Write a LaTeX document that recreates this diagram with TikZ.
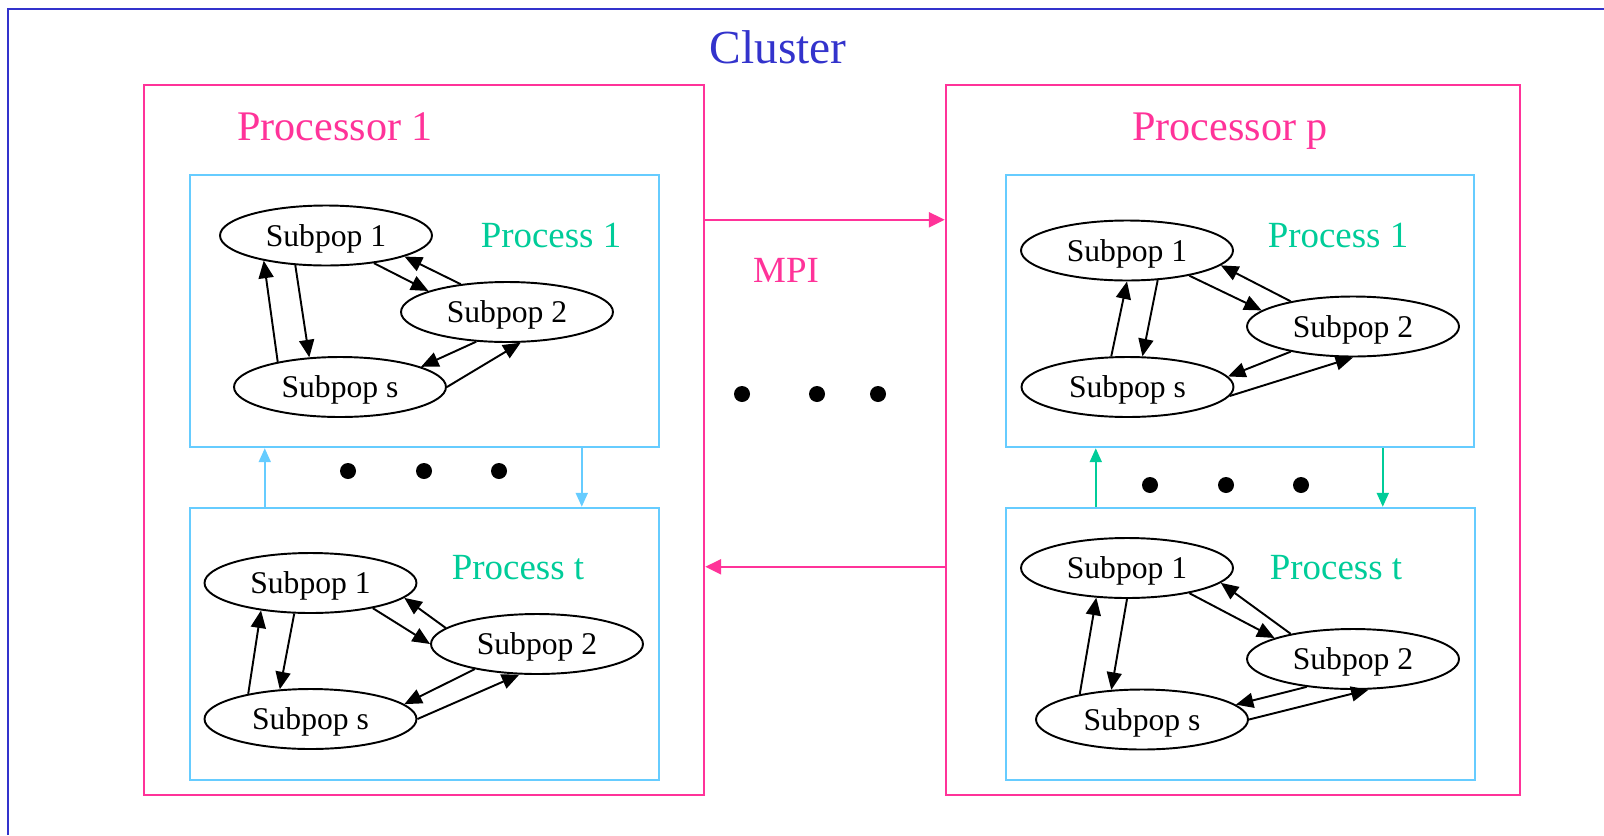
\documentclass[tikz,border=0pt]{standalone}
\usepackage{fontspec}
\setmainfont{Liberation Serif}
\definecolor{clusterblue}{RGB}{51,51,204}
\definecolor{cpupink}{RGB}{255,51,153}
\definecolor{procblue}{RGB}{102,204,255}
\definecolor{procgreen}{RGB}{0,204,153}
\usetikzlibrary{arrows.meta,shapes,fit,calc}

\begin{document}
\begin{tikzpicture}[x=0.02cm,y=-0.02cm,
    subpop/.style={draw, ellipse, line width=1.1pt, minimum width=4.24cm, minimum height=1.2cm, inner sep=0pt, text depth=0pt, font=\fontsize{18}{20}\selectfont},
    edge/.style={line width=1.1pt, -{Triangle[length=3.5mm,width=3mm]}},
    cpubox/.style={draw=cpupink, line width=1.4pt, inner sep=0pt},
    procbox/.style={draw=procblue, line width=1.4pt, inner sep=0pt},
    cpulabel/.style={text=cpupink, text depth=0pt, font=\fontsize{24}{28}\selectfont},
    proclabel/.style={text=procgreen, text depth=0pt, font=\fontsize{21}{24}\selectfont},
    mpiarrow/.style={draw=cpupink, line width=1.4pt, -{Triangle[length=3.2mm,width=3mm]}},
    procarrow/.style={draw=#1, line width=1.2pt, -{Triangle[length=2.8mm,width=2.4mm]}},
    dot/.style={fill=black}
    ]
      \useasboundingbox (0,0) rectangle (1604,835);
      \draw[clusterblue, line width=1.7pt] (8,835) -- (8,9) -- (1604,9);
      \node[text=clusterblue, text depth=0pt, font=\fontsize{27}{30}\selectfont] at (778,47) (cluster) {Cluster};

      \node[cpubox, fit={(144,85) (704,795)}] (cpu1) {};
      \node[cpubox, fit={(946,85) (1520,795)}] (cpup) {};
      \node[cpulabel] at (335,127) (cpu1lbl) {Processor 1};
      \node[cpulabel] at (1230,127) (cpuplbl) {Processor p};

      \node[procbox, fit={(190,175) (659,447)}] (l1) {};
      \node[procbox, fit={(190,508) (659,780)}] (lt) {};
      \node[procbox, fit={(1006,175) (1474,447)}] (r1) {};
      \node[procbox, fit={(1006,508) (1475,780)}] (rt) {};
      \node[proclabel] at (551,235) (l1lbl) {Process 1};
      \node[proclabel] at (518,567) (ltlbl) {Process t};
      \node[proclabel] at (1338,235) (r1lbl) {Process 1};
      \node[proclabel] at (1336,567) (rtlbl) {Process t};

      % processor 1, process 1
      \node[subpop] at (326,235.5) (a1) {Subpop 1};
      \node[subpop] at (507,312) (a2) {Subpop 2};
      \node[subpop] at (340,387) (as) {Subpop s};
      \draw[edge] (a1.-136) -- (as.136);
      \draw[edge] (as.158) -- (a1.-158);
      \draw[edge] (a1.-30) -- (a2.165);
      \draw[edge] (a2.149) -- (a1.-15);
      \draw[edge] (a2.-136) -- (as.14);
      \draw[edge] (as.0) -- (a2.-66);

      % processor 1, process t
      \node[subpop] at (310.5,583) (b1) {Subpop 1};
      \node[subpop] at (537,644) (b2) {Subpop 2};
      \node[subpop] at (310.5,719) (bs) {Subpop s};
      \draw[edge] (b1.-118) -- (bs.136);
      \draw[edge] (bs.158) -- (b1.-151);
      \draw[edge] (b1.-22) -- (b2.180);
      \draw[edge] (b2.170) -- (b1.-9);
      \draw[edge] (b2.-158) -- (bs.9);
      \draw[edge] (bs.0) -- (b2.-120);

      % processor p, process 1
      \node[subpop] at (1127,250.5) (c1) {Subpop 1};
      \node[subpop] at (1353,326.5) (c2) {Subpop 2};
      \node[subpop] at (1127.5,387) (cs) {Subpop s};
      \draw[edge] (c1.-44) -- (cs.64);
      \draw[edge] (cs.118) -- (c1.-90);
      \draw[edge] (c1.-22) -- (c2.170);
      \draw[edge] (c2.158) -- (c1.-9);
      \draw[edge] (c2.-158) -- (cs.6);
      \draw[edge] (cs.-5) -- (c2.-90);

      % processor p, process t
      \node[subpop] at (1127,568) (d1) {Subpop 1};
      \node[subpop] at (1353,659) (d2) {Subpop 2};
      \node[subpop] at (1142,719.5) (ds) {Subpop s};
      \draw[edge] (d1.-90) -- (ds.136);
      \draw[edge] (ds.158) -- (d1.-136);
      \draw[edge] (d1.-22) -- (d2.165);
      \draw[edge] (d2.158) -- (d1.-9);
      \draw[edge] (d2.-149) -- (ds.9);
      \draw[edge] (ds.0) -- (d2.-63);

      % between processes
      \draw[procarrow=procblue] ($(lt.north west)+(76,0)$) -- ($(l1.south west)+(76,0)$);
      \draw[procarrow=procblue] ($(l1.south west)+(393,0)$) -- ($(lt.north west)+(393,0)$);
      \draw[procarrow=procgreen] ($(rt.north west)+(91,0)$) -- ($(r1.south west)+(91,0)$);
      \draw[procarrow=procgreen] ($(r1.south west)+(378,0)$) -- ($(rt.north west)+(378,0)$);

      % MPI
      \draw[mpiarrow] ($(cpu1.north east)+(0,136)$) -- ($(cpup.north west)+(0,136)$);
      \draw[mpiarrow] ($(cpup.north west)+(0,483)$) -- ($(cpu1.north east)+(0,483)$);
      \node[text=cpupink, text depth=0pt, font=\fontsize{21}{24}\selectfont] at (786,270) (mpi) {MPI};

      \fill[dot] (742,394) circle[radius=0.16cm];
      \fill[dot] (817,394) circle[radius=0.16cm];
      \fill[dot] (878,394) circle[radius=0.16cm];
      \fill[dot] (348,471) circle[radius=0.16cm];
      \fill[dot] (424,471) circle[radius=0.16cm];
      \fill[dot] (499,471) circle[radius=0.16cm];
      \fill[dot] (1150,485) circle[radius=0.16cm];
      \fill[dot] (1226,485) circle[radius=0.16cm];
      \fill[dot] (1301,485) circle[radius=0.16cm];
\end{tikzpicture}
\end{document}
